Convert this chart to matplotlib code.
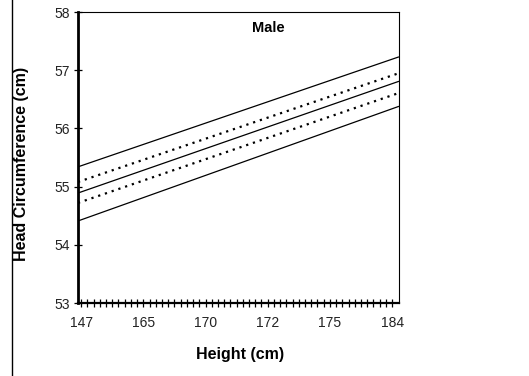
import matplotlib
matplotlib.use("Agg")
import matplotlib.pyplot as plt
from matplotlib.lines import Line2D

plt.rcParams['font.family'] = ['Liberation Sans', 'DejaVu Sans']

# --- data ---
height_labels = [147, 165, 170, 172, 175, 184]
n_ticks = 51                 # category ticks along the x axis
x_span = [0, 51.6]           # line start / end along the category axis

upper_solid = [55.34, 57.23]
upper_dotted = [55.08, 56.95]
middle_solid = [54.89, 56.81]
lower_dotted = [54.72, 56.61]
lower_solid = [54.41, 56.38]

fig = plt.figure(figsize=(5.29, 3.76), dpi=100)
ax = fig.add_axes([0.1474, 0.1941, 0.6068, 0.7739])

for ys in (upper_solid, middle_solid, lower_solid):
    ax.plot(x_span, ys, color="black", linewidth=0.9, solid_capstyle="butt")
for ys in (upper_dotted, lower_dotted):
    ax.plot(x_span, ys, color="black", linewidth=1.6, linestyle=(0, (1, 2.2)))

ax.set_xlim(x_span)
ax.set_ylim(53, 58)

tick_pos = [0.5 + k for k in range(n_ticks)]
ax.set_xticks(tick_pos)
ax.set_xticklabels([""] * n_ticks)
lab_pos = [0.5 + 10 * k for k in range(len(height_labels))]
for p, lab in zip(lab_pos, height_labels):
    ax.text(p, -0.043, str(lab), transform=ax.get_xaxis_transform(),
            ha="center", va="top", fontsize=10, color="#222222")
ax.tick_params(axis="x", direction="inout", length=6, width=0.9)

ax.set_yticks(range(53, 59))
ax.tick_params(axis="y", direction="inout", length=6, width=0.9,
               labelsize=10, pad=3, labelcolor="#222222")

ax.spines["left"].set_linewidth(2)
ax.spines["bottom"].set_linewidth(1.6)
ax.spines["top"].set_linewidth(0.8)
ax.spines["right"].set_linewidth(0.8)

ax.text(0.592, 0.945, "Male", transform=ax.transAxes, ha="center", va="center",
        fontsize=10.5, fontweight="bold")

fig.text(22 / 529, 1 - 164 / 376, "Head Circumference (cm)", rotation=90,
         ha="center", va="center", fontsize=11.5, fontweight="bold")
fig.text(240 / 529, 1 - 355 / 376, "Height (cm)", ha="center", va="center",
         fontsize=11.5, fontweight="bold")

fig.add_artist(Line2D([12 / 529, 12 / 529], [0, 1], transform=fig.transFigure,
                      color="black", linewidth=1))

fig.savefig("out.png", dpi=100)
